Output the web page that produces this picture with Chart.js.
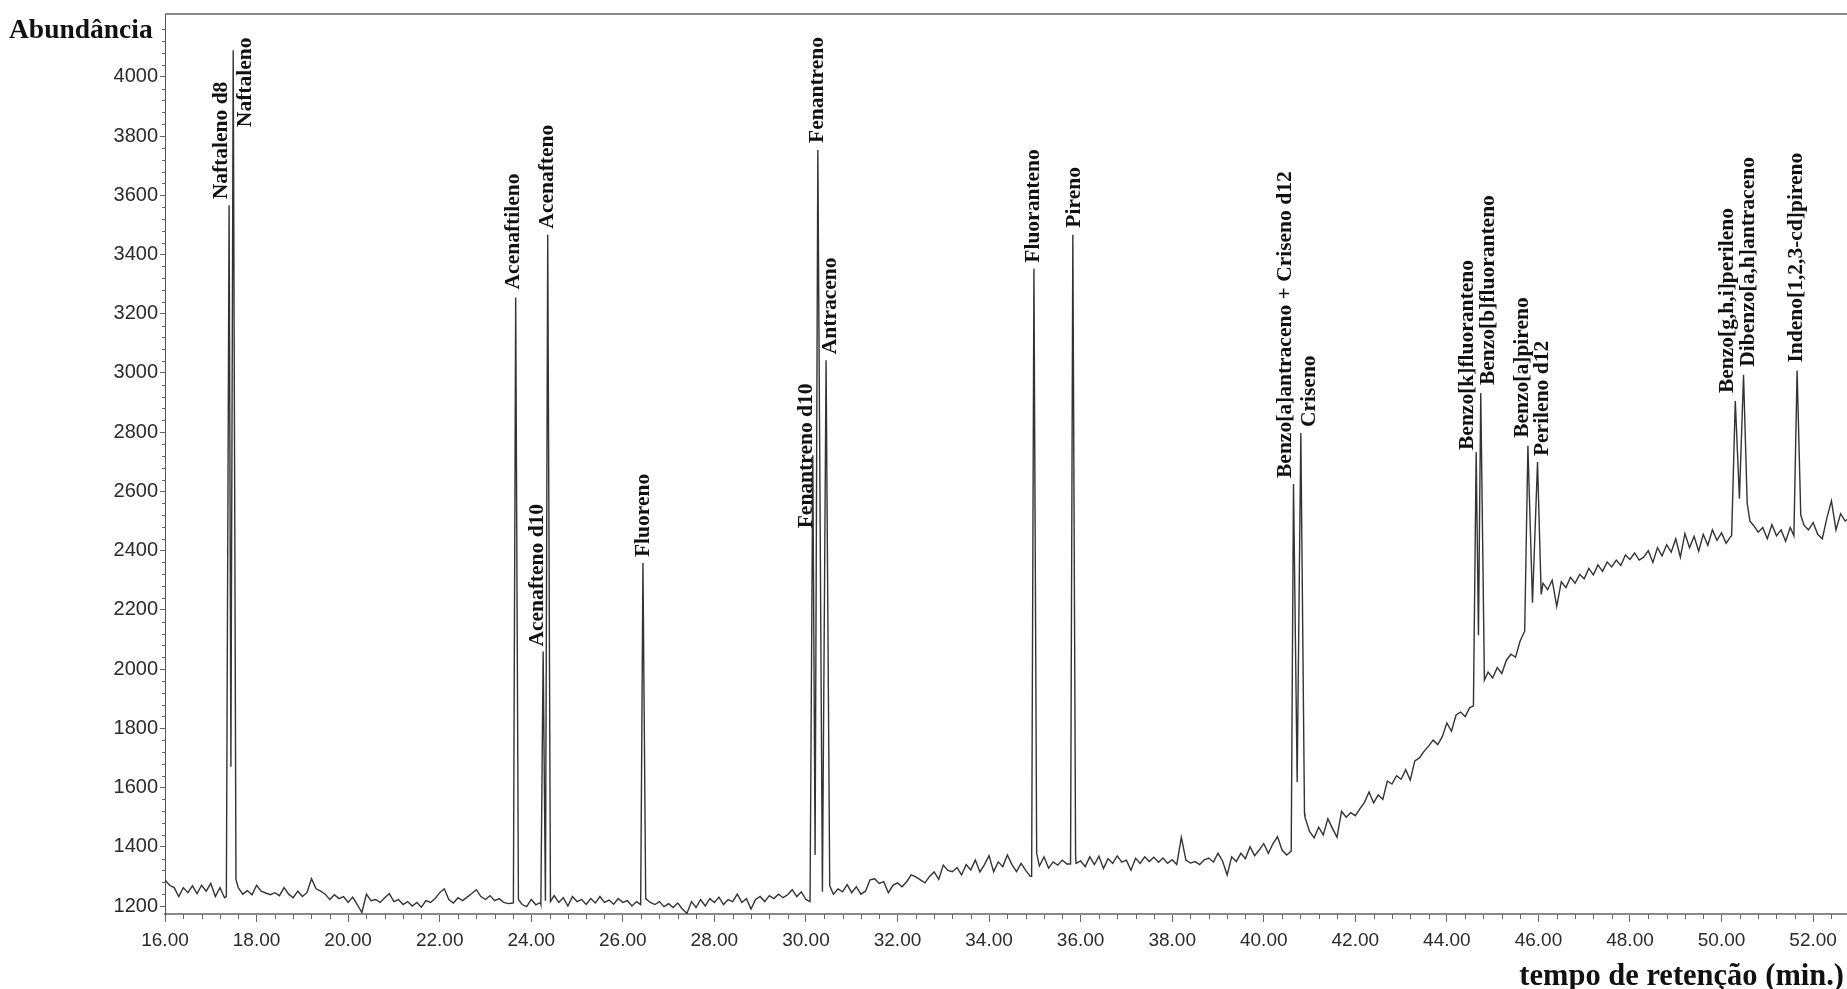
<!DOCTYPE html>
<html>
<head>
<meta charset="utf-8">
<script src="https://cdn.jsdelivr.net/npm/chart.js@4.4.1/dist/chart.umd.min.js"></script>
<style>
html,body{margin:0;padding:0;background:#fff;}
canvas{display:block;}
</style>
</head>
<body>
<canvas id="c" width="1847" height="989"></canvas>
<script>
// ---------------- DATA ----------------
// Axis tick values and labels
const xTickValues = [16,18,20,22,24,26,28,30,32,34,36,38,40,42,44,46,48,50,52];
const xTickLabels = ['16.00','18.00','20.00','22.00','24.00','26.00','28.00','30.00','32.00','34.00','36.00','38.00','40.00','42.00','44.00','46.00','48.00','50.00','52.00'];
const yTickValues = [1200,1400,1600,1800,2000,2200,2400,2600,2800,3000,3200,3400,3600,3800,4000];
const yTickLabels = ['1200','1400','1600','1800','2000','2200','2400','2600','2800','3000','3200','3400','3600','3800','4000'];

// Baseline abundance read every 0.1 min, from 16.0 to 52.8 min
const baselineStart = 16.0;
const baselineStep = 0.1;
const baselineAbundance = [
  1288,1270,1262,1232,1262,1245,1268,1242,1270,1250, // 16
  1276,1232,1262,1228,1240,1260,1262,1240,1252,1238, // 17
  1270,1250,1244,1238,1245,1235,1262,1240,1228,1250, // 18
  1232,1245,1292,1258,1250,1240,1222,1238,1225,1232, // 19
  1212,1230,1205,1178,1240,1218,1222,1212,1228,1242, // 20
  1215,1222,1205,1215,1200,1212,1196,1218,1212,1225, // 21
  1245,1258,1222,1210,1228,1218,1230,1242,1255,1232, // 22
  1222,1235,1218,1225,1212,1208,1210,1215,1205,1198, // 23
  1222,1204,1212,1210,1210,1235,1212,1228,1200,1232, // 24
  1215,1222,1205,1225,1210,1232,1212,1220,1206,1225, // 25
  1212,1218,1200,1215,1210,1215,1212,1205,1215,1198, // 26
  1208,1195,1210,1190,1175,1215,1195,1222,1200,1225, // 27
  1212,1230,1205,1222,1215,1240,1212,1225,1190,1222, // 28
  1232,1215,1235,1225,1240,1228,1238,1255,1232,1248, // 29
  1222,1230,1240,1240,1250,1260,1240,1258,1248,1272, // 30
  1245,1265,1240,1250,1288,1292,1276,1282,1245,1270, // 31
  1278,1265,1282,1305,1298,1288,1278,1300,1315,1290, // 32
  1338,1320,1316,1330,1305,1340,1322,1355,1315,1340, // 33
  1370,1316,1349,1333,1372,1340,1316,1344,1320,1300, // 34
  1330,1335,1366,1328,1349,1338,1355,1342,1345,1344, // 35
  1352,1333,1366,1340,1368,1327,1360,1344,1369,1348, // 36
  1355,1321,1361,1344,1366,1350,1365,1348,1362,1344, // 37
  1356,1340,1432,1355,1345,1350,1340,1356,1362,1348, // 38
  1378,1352,1305,1366,1350,1378,1360,1400,1370,1389, // 39
  1411,1378,1410,1434,1389,1372,1400,1420,1450,1500, // 40
  1452,1430,1466,1440,1495,1462,1432,1520,1500,1515, // 41
  1505,1528,1550,1585,1548,1575,1560,1622,1612,1640, // 42
  1628,1660,1625,1690,1700,1722,1740,1760,1745,1772, // 43
  1818,1790,1845,1855,1840,1870,1900,1930,1960,1990, // 44
  1970,2005,1985,2030,2050,2040,2095,2130,2200,2240, // 45
  2260,2290,2268,2300,2212,2295,2275,2310,2290,2320, // 46
  2305,2340,2318,2352,2330,2362,2345,2368,2350,2385, // 47
  2370,2392,2368,2378,2400,2360,2410,2382,2420,2395, // 48
  2440,2378,2458,2410,2448,2398,2455,2418,2470,2435, // 49
  2460,2425,2448,2460,2480,2490,2495,2485,2462,2478, // 50
  2440,2488,2450,2470,2432,2478,2450,2470,2480,2470, // 51
  2495,2455,2440,2510,2568,2470,2525,2500,2512        // 52
];

// Identified peaks: names, apex retention times (min) and apex abundances
const peakNames = [
  'Naftaleno d8','Naftaleno','Acenaftileno','Acenafteno d10','Acenafteno','Fluoreno',
  'Fenantreno d10','Fenantreno','Antraceno','Fluoranteno','Pireno',
  'Benzo[a]antraceno + Criseno d12','Criseno','Benzo[k]fluoranteno','Benzo[b]fluoranteno',
  'Benzo[a]pireno','Perileno d12','Benzo[g,h,i]perileno','Dibenzo[a,h]antraceno','Indeno[1,2,3-cd]pireno'
];
const peakTimes   = [17.40,17.49,23.66,24.26,24.36,26.44,30.15,30.26,30.44,34.98,35.83,40.65,40.81,44.64,44.74,45.77,45.98,50.30,50.48,51.65];
const peakHeights = [3566,4090,3255,2059,3467,2358,2722,3753,3043,3352,3467,2625,2797,2733,2932,2754,2699,2905,2994,3008];

// Peak feet and valleys (min, abundance)
const footTimes  = [17.34,17.44,17.55, 23.61,23.72, 24.21,24.31,24.42, 26.39,26.50,
                    30.09,30.20,30.36,30.52, 34.93,35.04, 35.78,35.89, 40.60,40.73,40.89,
                    44.58,44.69,44.82, 45.70,45.87,46.06, 50.22,50.39,50.56,50.62, 51.58,51.73,51.80];
const footValues = [1232,1670,1290, 1212,1222, 1206,1218,1215, 1205,1225,
                    1215,1372,1248,1268, 1300,1378, 1342,1375, 1385,1619,1512,
                    1875,2114,1963, 2128,2224,2252, 2450,2575,2560,2499, 2450,2520,2486];

// Time windows covered by the peak profiles (baseline samples inside are replaced)
const peakWindowStart = [17.34,23.61,24.21,26.39,30.09,34.93,35.78,40.60,44.58,45.70,50.22,51.58];
const peakWindowEnd   = [17.55,23.72,24.42,26.50,30.52,35.04,35.89,40.89,44.82,46.06,50.62,51.80];

// Label placement offsets (px) relative to each apex: text base (dy) and horizontal shift (dx)
const labelDx = [-8,12,-2,-6,0,0,-6,0,4,0,2,-8,9,-9,8,-5,5,-8,5,-1];
const labelDy = [-6,77,-8,-5,-6,-6,73,-7,-6,-6,-7,-6,-6,-2,-8,-8,-6,-8,-8,-8];

// ---------------- BUILD SERIES ----------------
function inWindow(t){
  for (let i=0;i<peakWindowStart.length;i++){
    if (t >= peakWindowStart[i]-0.005 && t <= peakWindowEnd[i]+0.005) return true;
  }
  return false;
}
const points = [];
baselineAbundance.forEach((v,i)=>{
  const t = Math.round((baselineStart + i*baselineStep)*100)/100;
  if (!inWindow(t)) points.push({x:t, y:v});
});
footTimes.forEach((t,i)=>points.push({x:t, y:footValues[i]}));
peakTimes.forEach((t,i)=>points.push({x:t, y:peakHeights[i]}));
points.sort((a,b)=>a.x-b.x);

// ---------------- DECORATION PLUGIN ----------------
const decor = {
  id:'decor',
  afterDatasetsDraw(chart){
    const ctx = chart.ctx, xs = chart.scales.x, ys = chart.scales.y, a = chart.chartArea;
    ctx.save();
    // top frame line
    ctx.strokeStyle = '#8a8a8a'; ctx.lineWidth = 2;
    ctx.beginPath(); ctx.moveTo(a.left, a.top); ctx.lineTo(a.right, a.top); ctx.stroke();
    // minor ticks
    ctx.strokeStyle = '#666'; ctx.lineWidth = 1;
    ctx.beginPath();
    for (let k=0;;k++){
      const t = 16 + k*0.4;
      if (t > xs.max) break;
      if (k % 5 === 0) continue;
      const px = Math.round(xs.getPixelForValue(t)) + 0.5;
      ctx.moveTo(px, a.bottom); ctx.lineTo(px, a.bottom + 5);
    }
    for (let k=0;;k++){
      const v = 1200 + k*40;
      if (v > ys.max) break;
      if (k % 5 === 0) continue;
      const py = Math.round(ys.getPixelForValue(v)) + 0.5;
      ctx.moveTo(a.left - 3, py); ctx.lineTo(a.left, py);
    }
    ctx.stroke();
    // peak labels
    ctx.fillStyle = '#111';
    ctx.font = 'bold 21.5px "Liberation Serif"';
    ctx.textAlign = 'left'; ctx.textBaseline = 'middle';
    peakNames.forEach((name,i)=>{
      const px = xs.getPixelForValue(peakTimes[i]) + labelDx[i];
      const py = ys.getPixelForValue(peakHeights[i]) + labelDy[i];
      ctx.save();
      ctx.translate(px, py);
      ctx.rotate(-Math.PI/2);
      ctx.fillText(name, 0, 0);
      ctx.restore();
    });
    // axis titles
    ctx.fillStyle = '#111';
    ctx.font = 'bold 27.5px "Liberation Serif"';
    ctx.textAlign = 'left'; ctx.textBaseline = 'alphabetic';
    ctx.fillText('Abundância', 9, 38);
    ctx.font = 'bold 30.5px "Liberation Serif"';
    ctx.textAlign = 'right';
    ctx.fillText('tempo de retenção (min.)', 1844, 985);
    ctx.restore();
  }
};

// ---------------- CHART ----------------
new Chart(document.getElementById('c').getContext('2d'), {
  type: 'line',
  data: { datasets: [{
    data: points,
    borderColor: '#333333',
    borderWidth: 1.4,
    pointRadius: 0,
    tension: 0,
    fill: false
  }]},
  options: {
    responsive: false,
    animation: false,
    devicePixelRatio: 1,
    layout: { padding: { top: 12, left: 0, right: 0, bottom: 0 } },
    plugins: { legend: { display: false }, tooltip: { enabled: false } },
    scales: {
      x: {
        type: 'linear', min: 16, max: 52.74,
        afterFit(s){ s.height = 75; },
        afterBuildTicks(s){ s.ticks = xTickValues.map(v=>({value:v})); },
        ticks: {
          callback: (v, i) => xTickLabels[i],
          font: { family: 'Liberation Sans', size: 19 },
          color: '#2a2a2a', padding: 7, maxRotation: 0, autoSkip: false
        },
        grid: { drawOnChartArea: false, tickLength: 8, color: '#666', lineWidth: 1 },
        border: { color: '#8a8a8a', width: 2 }
      },
      y: {
        type: 'linear', min: 1173, max: 4212,
        afterFit(s){ s.width = 165; },
        afterBuildTicks(s){ s.ticks = yTickValues.map(v=>({value:v})); },
        ticks: {
          callback: (v, i) => yTickLabels[i],
          font: { family: 'Liberation Sans', size: 20 },
          color: '#2a2a2a', padding: 2, autoSkip: false
        },
        grid: { drawOnChartArea: false, tickLength: 5, color: '#666', lineWidth: 1 },
        border: { color: '#555', width: 1 }
      }
    }
  },
  plugins: [decor]
});
</script>
</body>
</html>
